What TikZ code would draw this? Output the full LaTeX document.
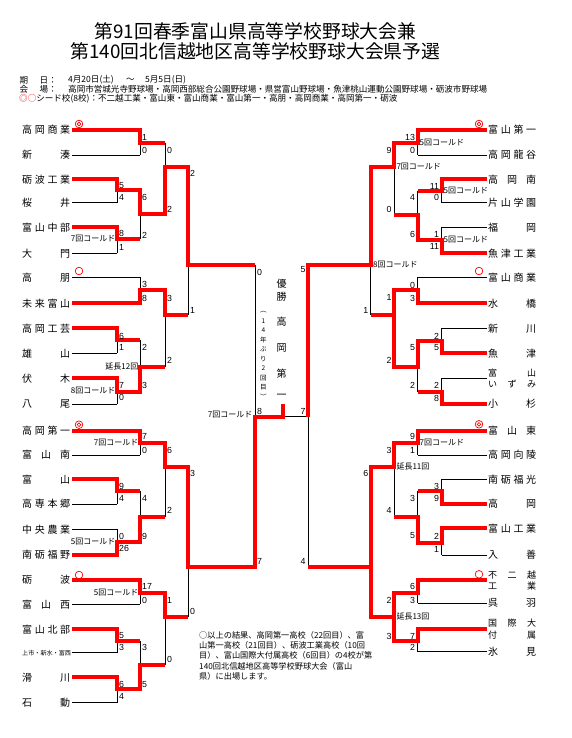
\documentclass[tikz,border=0pt]{standalone}
\usepackage{fontspec}
\setmainfont{Liberation Sans}
\newfontfamily\jp{Noto Sans CJK JP}
\newcommand\nm[1]{\makebox[48pt][s]{#1}}
\newcounter{scn}
\newcommand\LS[3]{\stepcounter{scn}\node[scl] (sc\arabic{scn}) at ({#1+2},#2) {#3};}
\newcommand\RS[3]{\stepcounter{scn}\node[scr] (sc\arabic{scn}) at ({#1-2.3},#2) {#3};}
\tikzset{
  blk/.style={line width=0.9pt, draw=black},
  win/.style={line width=4pt, draw=red, line join=miter},
  scl/.style={anchor=west, inner sep=0pt, font=\fontsize{8.8}{10}\selectfont},
  scr/.style={anchor=east, inner sep=0pt, font=\fontsize{8.8}{10}\selectfont},
  lab/.style={inner sep=0pt, font=\jp\fontsize{8}{9}\selectfont},
  tn/.style={anchor=west, inner sep=0pt, font=\jp\fontsize{10}{12}\selectfont},
  tn2/.style={anchor=west, inner sep=0pt, font=\jp\fontsize{9}{11}\selectfont},
  hdr/.style={anchor=west, inner sep=0pt, font=\jp\fontsize{8.55}{10}\selectfont},
  vt/.style={inner sep=0pt, font=\jp\fontsize{10}{12}\selectfont},
  seed/.style={draw=red, line width=0.7pt},
}
\begin{document}
\begin{tikzpicture}[x=1pt,y=-1pt]
\useasboundingbox (0,0) rectangle (571,738);
\fill[white] (0,0) rectangle (571,738);

% ---------- title and header
\node[inner sep=0pt, font=\jp\fontsize{18.8}{22}\selectfont] (t1) at (255.5,31.7) {第91回春季富山県高等学校野球大会兼};
\node[inner sep=0pt, font=\jp\fontsize{18.8}{22}\selectfont] (t2) at (255.5,51.7) {第140回北信越地区高等学校野球大会県予選};
\node[hdr] (h1) at (19.5,80) {期};
\node[hdr] (h2) at (39.5,80) {日：};
\node[hdr] (h3) at (68,80) {4月20日(土)};
\node[hdr] (h4) at (126,80) {～};
\node[hdr] (h5) at (145,80) {5月5日(日)};
\node[hdr] (h6) at (19.5,89.3) {会};
\node[hdr] (h7) at (39.5,89.3) {場：};
\node[hdr] (h8) at (68,89.3) {高岡市営城光寺野球場・高岡西部総合公園野球場・県営富山野球場・魚津桃山運動公園野球場・砺波市野球場};
\node[hdr] (h9) at (19,99) {{\color{red}◎○}シード校(8校)：不二越工業・富山東・富山商業・富山第一・高朋・高岡商業・高岡第一・砺波};

% ---------- black lines (left)
\foreach \yy in {130,155,277.3,303.3,430.7,455,580,604.3} \draw[blk] (72,\yy) -- (140,\yy);
\foreach \yy in {179.3,202.7,227.3,253.3,328.3,353.3,378.3,404,479.3,504,529.3,555,629.3,652.7,677.3,702.7} \draw[blk] (72,\yy) -- (117,\yy);
\foreach \xx/\ya/\yb in {140/130/155,140/190/239,140/277.3/303.3,140/340/391.7,140/430.7/455,140/491.3/541.7,140/580/604.3,140/641/689.3,
  117/179.3/202.7,117/227.3/253.3,117/328.3/353.3,117/378.3/404,117/479.3/504,117/529.3/555,117/629.3/652.7,117/677.3/702.7,
  165/142.7/214,165/290/366.7,165/442.7/516.7,165/592.7/665,188/166.7/315,188/467.3/616.7,255/265/566.7}
  \draw[blk] (\xx,\ya) -- (\xx,\yb);
% ---------- black lines (right)
\foreach \yy in {130,155,277.3,303.3,430.7,455,580,603.3,629.3,651.7} \draw[blk] (487,\yy) -- (417.5,\yy);
\foreach \yy in {179.3,202.7,227.3,253.3,328.3,353.3,378.3,404,479.3,504,528.3,555} \draw[blk] (487,\yy) -- (441.5,\yy);
\foreach \xx/\ya/\yb in {441.5/179.3/202.7,441.5/227.3/253.3,441.5/328.3/353.3,441.5/378.3/404,441.5/479.3/504,441.5/528.3/555,
  417.5/130/155,417.5/190.7/240,417.5/277.3/303.3,417.5/340.7/391.7,417.5/430.7/455,417.5/490.7/542.7,417.5/580/603.3,417.5/629.3/651.7,
  394/142.7/215,394/290/366.7,394/442.7/516.7,394/592.7/641,370.7/166.7/315,370.7/466.7/616.7,308/265/566.7}
  \draw[blk] (\xx,\ya) -- (\xx,\yb);
\draw[blk] (255,416.7) -- (308,416.7);

% ---------- winners (left)
\draw[win] (72,130) -- (140,130) -- (140,142.7) -- (165,142.7);
\draw[win] (72,179.3) -- (117,179.3) -- (117,190) -- (140,190) -- (140,214) -- (165,214) -- (165,166.7) -- (188,166.7) -- (188,265) -- (255,265);
\draw[win] (72,227.3) -- (117,227.3) -- (117,239) -- (140,239);
\draw[win] (72,303.3) -- (140,303.3) -- (140,290) -- (165,290) -- (165,315) -- (188,315);
\draw[win] (72,328.3) -- (117,328.3) -- (117,340) -- (140,340);
\draw[win] (72,378.3) -- (117,378.3) -- (117,391.7) -- (140,391.7) -- (140,366.7) -- (165,366.7);
\draw[win] (72,430.7) -- (140,430.7) -- (140,442.7) -- (165,442.7) -- (165,467.3) -- (188,467.3) -- (188,566.7) -- (255,566.7) -- (255,416.7) -- (283,416.7) -- (283,404);
\draw[win] (72,479.3) -- (117,479.3) -- (117,491.3) -- (140,491.3);
\draw[win] (72,555) -- (117,555) -- (117,541.7) -- (140,541.7) -- (140,516.7) -- (165,516.7);
\draw[win] (72,580) -- (140,580) -- (140,592.7) -- (165,592.7) -- (165,616.7) -- (188,616.7);
\draw[win] (72,629.3) -- (117,629.3) -- (117,641) -- (140,641);
\draw[win] (72,677.3) -- (117,677.3) -- (117,689.3) -- (140,689.3) -- (140,665) -- (165,665);
% ---------- winners (right)
\draw[win] (487,130) -- (417.5,130) -- (417.5,142.7) -- (394,142.7) -- (394,166.7) -- (370.7,166.7) -- (370.7,265) -- (308,265) -- (308,416.7);
\draw[win] (487,179.3) -- (441.5,179.3) -- (441.5,190.7) -- (417.5,190.7);
\draw[win] (487,253.3) -- (441.5,253.3) -- (441.5,240) -- (417.5,240) -- (417.5,215) -- (394,215);
\draw[win] (487,303.3) -- (417.5,303.3) -- (417.5,290) -- (394,290) -- (394,315);
\draw[win] (487,353.3) -- (441.5,353.3) -- (441.5,340.7) -- (417.5,340.7) -- (417.5,366.7) -- (394,366.7) -- (394,315) -- (370.7,315);
\draw[win] (487,404) -- (441.5,404) -- (441.5,391.7) -- (417.5,391.7);
\draw[win] (487,430.7) -- (417.5,430.7) -- (417.5,442.7) -- (394,442.7) -- (394,466.7) -- (370.7,466.7) -- (370.7,566.7) -- (308,566.7);
\draw[win] (487,504) -- (441.5,504) -- (441.5,490.7) -- (417.5,490.7);
\draw[win] (487,528.3) -- (441.5,528.3) -- (441.5,542.7) -- (417.5,542.7) -- (417.5,516.7) -- (394,516.7);
\draw[win] (487,580) -- (417.5,580) -- (417.5,592.7) -- (394,592.7) -- (394,616.7) -- (370.7,616.7) -- (370.7,566.7);
\draw[win] (487,629.3) -- (417.5,629.3) -- (417.5,641) -- (394,641) -- (394,616.7);

% ---------- team names (left)
\node[tn] (L0) at (22,130) {\nm{高\hfill 岡\hfill 商\hfill 業}};
\node[tn] (L1) at (22,155) {\nm{新\hfill 湊}};
\node[tn] (L2) at (22,179.3) {\nm{砺\hfill 波\hfill 工\hfill 業}};
\node[tn] (L3) at (22,202.7) {\nm{桜\hfill 井}};
\node[tn] (L4) at (22,227.3) {\nm{富\hfill 山\hfill 中\hfill 部}};
\node[tn] (L5) at (22,253.3) {\nm{大\hfill 門}};
\node[tn] (L6) at (22,277.3) {\nm{高\hfill 朋}};
\node[tn] (L7) at (22,303.3) {\nm{未\hfill 来\hfill 富\hfill 山}};
\node[tn] (L8) at (22,328.3) {\nm{高\hfill 岡\hfill 工\hfill 芸}};
\node[tn] (L9) at (22,353.3) {\nm{雄\hfill 山}};
\node[tn] (L10) at (22,378.3) {\nm{伏\hfill 木}};
\node[tn] (L11) at (22,404) {\nm{八\hfill 尾}};
\node[tn] (L12) at (22,430.7) {\nm{高\hfill 岡\hfill 第\hfill 一}};
\node[tn] (L13) at (22,455) {\nm{富\hfill 山\hfill 南}};
\node[tn] (L14) at (22,479.3) {\nm{富\hfill 山}};
\node[tn] (L15) at (22,504) {\nm{高\hfill 専\hfill 本\hfill 郷}};
\node[tn] (L16) at (22,529.3) {\nm{中\hfill 央\hfill 農\hfill 業}};
\node[tn] (L17) at (22,555) {\nm{南\hfill 砺\hfill 福\hfill 野}};
\node[tn] (L18) at (22,580) {\nm{砺\hfill 波}};
\node[tn] (L19) at (22,604.3) {\nm{富\hfill 山\hfill 西}};
\node[tn] (L20) at (22,629.3) {\nm{富\hfill 山\hfill 北\hfill 部}};
\node[anchor=west, inner sep=0pt, font=\jp\fontsize{6.1}{7}\selectfont] (L21) at (22,652.7) {上市・新水・富西};
\node[tn] (L22) at (22,677.3) {\nm{滑\hfill 川}};
\node[tn] (L23) at (22,702.7) {\nm{石\hfill 動}};
% ---------- team names (right)
\node[tn] (R0) at (488,130) {\nm{富\hfill 山\hfill 第\hfill 一}};
\node[tn] (R1) at (488,155) {\nm{高\hfill 岡\hfill 龍\hfill 谷}};
\node[tn] (R2) at (488,179.3) {\nm{高\hfill 岡\hfill 南}};
\node[tn] (R3) at (488,202.7) {\nm{片\hfill 山\hfill 学\hfill 園}};
\node[tn] (R4) at (488,227.3) {\nm{福\hfill 岡}};
\node[tn] (R5) at (488,253.3) {\nm{魚\hfill 津\hfill 工\hfill 業}};
\node[tn] (R6) at (488,277.3) {\nm{富\hfill 山\hfill 商\hfill 業}};
\node[tn] (R7) at (488,303.3) {\nm{水\hfill 橋}};
\node[tn] (R8) at (488,328.3) {\nm{新\hfill 川}};
\node[tn] (R9) at (488,353.3) {\nm{魚\hfill 津}};
\node[tn2] (R10a) at (488,373) {\nm{富\hfill 山}};
\node[tn2] (R10b) at (488,384.3) {\nm{い\hfill ず\hfill み}};
\node[tn] (R11) at (488,404) {\nm{小\hfill 杉}};
\node[tn] (R12) at (488,430.7) {\nm{富\hfill 山\hfill 東}};
\node[tn] (R13) at (488,455) {\nm{高\hfill 岡\hfill 向\hfill 陵}};
\node[tn] (R14) at (488,479.3) {\nm{南\hfill 砺\hfill 福\hfill 光}};
\node[tn] (R15) at (488,504) {\nm{高\hfill 岡}};
\node[tn] (R16) at (488,528.3) {\nm{富\hfill 山\hfill 工\hfill 業}};
\node[tn] (R17) at (488,555) {\nm{入\hfill 善}};
\node[tn2] (R18a) at (488,575) {\nm{不\hfill 二\hfill 越}};
\node[tn2] (R18b) at (488,586) {\nm{工\hfill 業}};
\node[tn] (R19) at (488,603.3) {\nm{呉\hfill 羽}};
\node[tn2] (R20a) at (488,623.3) {\nm{国\hfill 際\hfill 大}};
\node[tn2] (R20b) at (488,635) {\nm{付\hfill 属}};
\node[tn] (R21) at (488,651.7) {\nm{氷\hfill 見}};

% ---------- seed marks
\foreach \xx/\yy in {79/124,79/424.7,479/124,479/424.3} {\draw[seed] (\xx,\yy) circle (3.8); \draw[seed] (\xx,\yy) circle (1.8);}
\foreach \xx/\yy in {79/271,79/575,479/271,479/574.3} \draw[seed] (\xx,\yy) circle (3.8);

% ---------- scores
\foreach \ax/\ay/\av in {140/137.3/1,140/150/0,117/186/5,117/197.3/4,117/233/8,117/247/1,140/197.3/6,140/235/2,165/150/0,165/209/2,188/173/2,
  140/284/3,140/298/8,117/336/6,117/347/1,117/385/7,117/397/0,140/347/2,140/385/3,165/298/3,165/360/2,188/310/1,255/272/0,
  140/436.7/7,140/450/0,117/486.7/9,117/498.3/4,117/536/0,117/548.3/26,140/498.3/4,140/536/9,165/450/6,165/510/2,188/473.3/3,
  140/586/17,140/600/0,117/636/5,117/647.3/3,117/684/6,117/696.7/4,140/647.3/3,140/685/5,165/600/1,165/659.3/0,188/611.7/0,255/561.7/7,255/411.7/8}
  {\LS{\ax}{\ay}{\av}}
\foreach \ax/\ay/\av in {417.5/137.3/13,417.5/150/0,394/150/9,394/209.3/0,441.5/186/11,441.5/197.3/0,441.5/234/1,441.5/246.7/11,417.5/197.3/4,417.5/234/6,
  417.5/285/0,417.5/298.3/3,394/297.3/1,394/360/2,441.5/336/2,441.5/347.3/5,441.5/385/2,441.5/398.3/8,417.5/347.3/5,417.5/385/2,370.7/310/1,308/269.3/5,308/411.7/7,308/561.7/4,
  417.5/436.7/9,417.5/450/1,394/450/3,394/510/4,441.5/486/3,441.5/498.3/9,441.5/536/2,441.5/549.3/1,417.5/498.3/3,417.5/536/5,370.7/473.3/6,
  417.5/586/6,417.5/600/3,417.5/636/7,417.5/647.3/2,394/600/2,394/636/3}
  {\RS{\ax}{\ay}{\av}}

% ---------- game notes
\node[lab, anchor=east] (k1) at (115.5,238.3) {7回コールド};
\node[lab, anchor=east] (k2) at (138.5,366.5) {延長12回};
\node[lab, anchor=east] (k3) at (115.5,390.3) {8回コールド};
\node[lab, anchor=east] (k4) at (138.5,442.7) {7回コールド};
\node[lab, anchor=east] (k5) at (115.5,541.7) {5回コールド};
\node[lab, anchor=east] (k6) at (138.5,592.7) {5回コールド};
\node[lab, anchor=east] (k7) at (252.5,415) {7回コールド};
\node[lab, anchor=west] (k8) at (419.5,142.7) {5回コールド};
\node[lab, anchor=west] (k9) at (396.3,166.7) {7回コールド};
\node[lab, anchor=west] (k10) at (443.5,190.7) {5回コールド};
\node[lab, anchor=west] (k11) at (443.5,240) {5回コールド};
\node[lab, anchor=west] (k12) at (373,265) {8回コールド};
\node[lab, anchor=west] (k13) at (419.5,442.7) {7回コールド};
\node[lab, anchor=west] (k14) at (396.3,466.7) {延長11回};
\node[lab, anchor=west] (k15) at (396.3,616.7) {延長13回};

% ---------- champion
\node[vt] (w1) at (281.7,283.3) {優};
\node[vt] (w2) at (281.7,296.7) {勝};
\node[vt] (w3) at (281.7,321.7) {高};
\node[vt] (w4) at (281.7,347.7) {岡};
\node[vt] (w5) at (281.7,373.3) {第};
\node[vt] (w6) at (281.7,396.7) {一};
\foreach \c [count=\i from 0] in {︵,1,4,年,ぶ,り,2,回,目,︶}
  \node[inner sep=0pt, font=\jp\fontsize{6.5}{7}\selectfont] (y\i) at (263.3,{311.7+9.44*\i}) {\c};

% ---------- note
\node[anchor=north west, align=left, inner sep=0pt, font=\jp\fontsize{8.2}{10.1}\selectfont] (note) at (199,631.5)
 {○以上の結果、高岡第一高校（22回目）、富\\山第一高校（21回目）、砺波工業高校（10回\\目）、富山国際大付属高校（6回目）の4校が第\\140回北信越地区高等学校野球大会（富山\\県）に出場します。};
\end{tikzpicture}
\end{document}
